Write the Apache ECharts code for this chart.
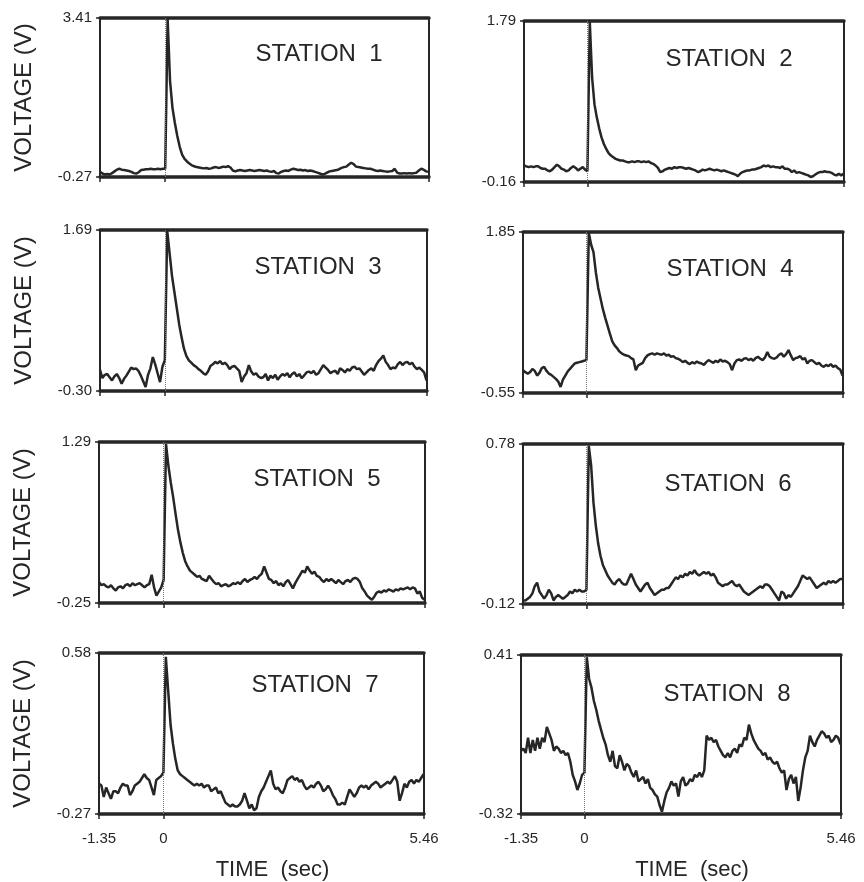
<!DOCTYPE html>
<html><head><meta charset="utf-8">
<script src="https://cdn.jsdelivr.net/npm/echarts@6/dist/echarts.min.js"></script>
<style>html,body{margin:0;padding:0;background:#fff}#c{width:864px;height:882px}</style>
</head><body><div id="c"></div>
<script>
// sampling of the recorded traces
const T0 = -1.35, DT = 0.05;
const TIME_MIN = -1.35, TIME_MAX = 5.46;
const TIME_TICKS = [-1.35, 0, 5.46];
const TIME_TICK_LABELS = ['-1.35', '0', '5.46'];
const STATION_NAMES = ['STATION  1','STATION  2','STATION  3','STATION  4','STATION  5','STATION  6','STATION  7','STATION  8'];
const Y_MIN = [-0.27, -0.16, -0.30, -0.55, -0.25, -0.12, -0.27, -0.32];
const Y_MAX = [3.41, 1.79, 1.69, 1.85, 1.29, 0.78, 0.58, 0.41];
const Y_MIN_LABELS = ['-0.27','-0.16','-0.30','-0.55','-0.25','-0.12','-0.27','-0.32'];
const Y_MAX_LABELS = ['3.41','1.79','1.69','1.85','1.29','0.78','0.58','0.41'];

const station1 = [
-0.15,-0.19,-0.21,-0.20,-0.21,-0.18,-0.14,-0.10,-0.08,-0.10,
-0.11,-0.12,-0.13,-0.15,-0.18,-0.19,-0.16,-0.11,-0.10,-0.09,
-0.09,-0.08,-0.09,-0.09,-0.08,-0.09,-0.08,-0.08,
3.39,1.95,1.33,0.98,0.68,0.43,0.25,0.15,0.09,0.04,
0.00,-0.02,-0.04,-0.05,-0.06,-0.07,-0.06,-0.08,-0.07,-0.05,
-0.04,-0.06,-0.05,-0.03,-0.04,-0.02,-0.05,-0.12,-0.14,-0.12,
-0.11,-0.12,-0.13,-0.12,-0.11,-0.12,-0.13,-0.12,-0.11,-0.12,
-0.13,-0.12,-0.14,-0.15,-0.13,-0.18,-0.19,-0.15,-0.13,-0.12,
-0.13,-0.10,-0.08,-0.09,-0.11,-0.10,-0.12,-0.11,-0.13,-0.12,
-0.13,-0.15,-0.17,-0.19,-0.21,-0.20,-0.17,-0.14,-0.13,-0.12,
-0.11,-0.09,-0.06,-0.04,-0.03,0.02,0.06,0.03,-0.03,-0.04,
-0.05,-0.06,-0.07,-0.08,-0.08,-0.10,-0.12,-0.13,-0.12,-0.13,
-0.14,-0.15,-0.14,-0.13,-0.08,-0.17,-0.19,-0.19,-0.18,-0.19,
-0.18,-0.19,-0.18,-0.17,-0.12,-0.08,-0.10,-0.14,-0.15];

const station2 = [
0.04,0.03,0.02,0.03,0.02,0.03,0.03,0.01,0.00,0.00,
-0.02,-0.03,-0.01,0.02,0.05,0.03,0.00,-0.01,-0.03,-0.02,
0.01,0.03,0.01,-0.02,0.00,0.02,-0.01,-0.03,
1.78,1.10,0.78,0.62,0.49,0.38,0.30,0.24,0.19,0.16,
0.14,0.12,0.11,0.10,0.10,0.09,0.08,0.08,0.09,0.08,
0.09,0.09,0.08,0.09,0.08,0.09,0.07,0.06,0.04,0.01,
-0.04,-0.03,-0.01,0.00,0.01,0.00,0.02,0.01,0.02,0.02,
0.01,0.00,0.01,0.00,-0.01,-0.02,-0.04,-0.03,-0.01,-0.02,
-0.01,0.00,-0.01,-0.02,-0.01,-0.02,-0.03,-0.02,-0.03,-0.04,
-0.05,-0.06,-0.07,-0.09,-0.06,-0.04,-0.03,-0.02,-0.02,-0.01,
-0.01,0.00,0.01,0.02,0.04,0.03,0.04,0.02,0.03,0.02,
0.02,0.01,0.03,0.00,0.00,-0.01,-0.04,-0.02,-0.05,-0.04,
-0.05,-0.06,-0.07,-0.08,-0.10,-0.09,-0.07,-0.05,-0.04,-0.04,
-0.03,-0.04,-0.04,-0.05,-0.07,-0.08,-0.06,-0.08,-0.06];

const station3 = [
-0.04,-0.14,-0.10,-0.09,-0.13,-0.17,-0.12,-0.09,-0.14,-0.21,
-0.15,-0.11,-0.06,-0.01,-0.03,-0.02,-0.05,-0.11,-0.18,-0.25,
-0.10,-0.02,0.12,0.03,-0.08,-0.19,0.00,0.08,
1.68,1.40,1.12,0.92,0.72,0.52,0.36,0.22,0.13,0.08,
0.05,0.02,0.00,-0.03,-0.05,-0.08,-0.10,-0.06,0.01,0.03,
0.06,0.04,0.07,0.03,0.05,0.02,-0.03,0.00,0.01,-0.02,
-0.05,-0.19,-0.12,-0.08,0.02,-0.06,-0.10,-0.08,-0.12,-0.14,
-0.13,-0.09,-0.17,-0.11,-0.14,-0.10,-0.16,-0.12,-0.09,-0.11,
-0.08,-0.13,-0.09,-0.07,-0.12,-0.09,-0.14,-0.11,-0.07,-0.06,
-0.08,-0.05,-0.10,-0.08,-0.03,0.02,-0.01,-0.04,-0.08,-0.06,
-0.05,-0.09,-0.02,-0.04,-0.07,-0.03,-0.05,-0.01,0.00,-0.03,
-0.02,-0.06,-0.10,-0.07,-0.04,-0.02,-0.05,0.02,0.07,0.10,
0.14,0.06,0.02,-0.03,-0.01,-0.02,0.03,0.06,0.02,0.05,
0.06,0.03,0.05,0.00,-0.03,-0.01,-0.04,-0.07,-0.17];

const station4 = [
-0.21,-0.24,-0.26,-0.24,-0.19,-0.22,-0.29,-0.25,-0.18,-0.16,
-0.22,-0.26,-0.28,-0.31,-0.34,-0.38,-0.46,-0.35,-0.29,-0.23,
-0.19,-0.15,-0.11,-0.10,-0.09,-0.08,-0.07,-0.06,
1.84,1.66,1.55,1.25,1.02,0.86,0.70,0.57,0.45,0.33,
0.22,0.16,0.12,0.07,0.04,0.02,0.01,0.00,-0.03,-0.05,
-0.21,-0.14,-0.12,-0.10,-0.03,0.01,0.03,0.04,0.02,0.04,
0.03,0.02,0.04,0.01,0.02,-0.01,0.00,-0.03,-0.04,-0.06,
-0.09,-0.07,-0.10,-0.12,-0.09,-0.11,-0.08,-0.10,-0.11,-0.13,
-0.09,-0.06,-0.08,-0.10,-0.07,-0.09,-0.05,-0.08,-0.07,-0.09,
-0.12,-0.21,-0.11,-0.06,-0.05,-0.07,-0.04,-0.03,-0.06,-0.04,
-0.07,-0.03,-0.01,-0.04,-0.06,-0.02,0.06,-0.01,-0.03,-0.04,
-0.02,0.02,0.04,-0.01,0.03,0.09,0.01,-0.06,-0.03,-0.02,
0.00,-0.05,-0.03,-0.11,-0.07,-0.06,-0.09,-0.12,-0.10,-0.14,
-0.16,-0.13,-0.15,-0.12,-0.16,-0.14,-0.18,-0.20,-0.29];

const station5 = [
-0.05,-0.08,-0.07,-0.09,-0.10,-0.08,-0.11,-0.13,-0.10,-0.09,
-0.11,-0.08,-0.07,-0.09,-0.06,-0.08,-0.07,-0.06,-0.08,-0.10,
-0.08,-0.07,0.02,-0.10,-0.18,-0.14,-0.10,-0.03,
1.27,1.06,0.90,0.76,0.60,0.45,0.33,0.23,0.15,0.10,
0.06,0.04,0.02,0.00,0.01,-0.02,-0.03,-0.04,0.01,-0.02,
-0.05,-0.07,-0.06,-0.09,-0.08,-0.07,-0.09,-0.08,-0.06,-0.07,
-0.05,-0.07,-0.04,-0.02,-0.05,-0.03,-0.02,0.00,-0.02,0.01,
0.03,0.10,0.04,-0.02,-0.03,-0.06,-0.04,-0.08,-0.06,-0.09,
-0.05,-0.03,-0.07,-0.11,-0.06,-0.02,0.02,0.06,0.04,0.10,
0.06,0.03,0.05,0.01,0.00,-0.03,-0.05,-0.02,-0.04,-0.02,
-0.04,-0.06,-0.03,-0.05,-0.07,-0.04,-0.03,-0.05,-0.02,-0.01,
-0.02,-0.05,-0.11,-0.14,-0.18,-0.20,-0.22,-0.19,-0.15,-0.14,
-0.15,-0.13,-0.14,-0.12,-0.13,-0.14,-0.12,-0.13,-0.11,-0.12,
-0.11,-0.10,-0.12,-0.10,-0.11,-0.16,-0.14,-0.20,-0.22];

const station6 = [
-0.10,-0.10,-0.09,-0.08,-0.06,-0.02,0.00,-0.05,-0.07,-0.09,
-0.07,-0.04,-0.06,-0.10,-0.08,-0.07,-0.08,-0.09,-0.08,-0.07,
-0.05,-0.06,-0.04,-0.05,-0.04,-0.05,-0.05,-0.04,
0.77,0.66,0.45,0.32,0.22,0.15,0.10,0.07,0.04,0.02,
0.00,-0.01,0.01,0.02,0.00,-0.01,-0.01,0.02,0.05,0.02,
-0.01,-0.03,-0.05,-0.03,-0.01,0.00,-0.03,-0.05,-0.07,-0.06,
-0.05,-0.04,-0.04,-0.03,-0.03,-0.01,0.01,0.03,0.02,0.04,
0.03,0.05,0.04,0.06,0.05,0.07,0.05,0.04,0.05,0.06,
0.05,0.06,0.04,0.05,0.03,0.00,-0.01,-0.02,-0.01,-0.01,
0.00,0.01,-0.01,-0.02,-0.01,-0.03,-0.05,-0.06,-0.07,-0.06,
-0.05,-0.04,-0.03,-0.02,-0.03,-0.01,-0.01,-0.02,-0.04,-0.06,
-0.08,-0.10,-0.05,-0.06,-0.09,-0.07,-0.08,-0.06,-0.04,-0.02,
0.01,0.04,0.03,0.02,0.03,0.01,-0.01,-0.03,-0.02,-0.01,
0.00,-0.01,0.01,0.00,0.01,0.00,0.01,0.02,0.02];

const station7 = [
-0.11,-0.12,-0.18,-0.13,-0.16,-0.19,-0.15,-0.15,-0.16,-0.13,
-0.11,-0.12,-0.12,-0.17,-0.15,-0.12,-0.11,-0.10,-0.08,-0.06,
-0.08,-0.09,-0.13,-0.17,-0.09,-0.08,-0.07,-0.05,
0.56,0.38,0.20,0.10,0.02,-0.04,-0.06,-0.07,-0.08,-0.09,
-0.10,-0.11,-0.12,-0.11,-0.12,-0.11,-0.13,-0.12,-0.12,-0.15,
-0.14,-0.13,-0.16,-0.15,-0.18,-0.21,-0.22,-0.23,-0.22,-0.23,
-0.23,-0.22,-0.20,-0.16,-0.20,-0.24,-0.22,-0.25,-0.24,-0.18,
-0.15,-0.13,-0.10,-0.07,-0.04,-0.11,-0.14,-0.13,-0.15,-0.16,
-0.13,-0.09,-0.08,-0.07,-0.09,-0.08,-0.10,-0.09,-0.12,-0.14,
-0.13,-0.12,-0.13,-0.11,-0.10,-0.12,-0.15,-0.14,-0.12,-0.14,
-0.17,-0.19,-0.22,-0.22,-0.21,-0.22,-0.18,-0.14,-0.16,-0.18,
-0.16,-0.13,-0.12,-0.13,-0.12,-0.14,-0.12,-0.11,-0.10,-0.11,
-0.13,-0.12,-0.11,-0.10,-0.11,-0.09,-0.07,-0.10,-0.20,-0.16,
-0.11,-0.13,-0.10,-0.09,-0.11,-0.09,-0.10,-0.08,-0.06];

const station8 = [
-0.03,-0.02,-0.04,0.03,-0.04,0.02,-0.03,0.03,-0.02,0.03,
0.01,0.08,0.05,0.02,-0.03,-0.01,-0.02,-0.04,-0.03,-0.05,
-0.04,-0.08,-0.14,-0.17,-0.21,-0.18,-0.14,-0.13,
0.40,0.30,0.26,0.20,0.16,0.11,0.07,0.03,0.00,-0.05,
-0.08,-0.03,-0.10,-0.11,-0.05,-0.08,-0.12,-0.09,-0.10,-0.13,
-0.15,-0.12,-0.17,-0.16,-0.15,-0.18,-0.16,-0.20,-0.21,-0.23,
-0.24,-0.28,-0.31,-0.26,-0.22,-0.20,-0.17,-0.19,-0.18,-0.24,
-0.17,-0.15,-0.19,-0.18,-0.16,-0.17,-0.14,-0.15,-0.13,-0.15,
-0.12,0.04,0.02,0.03,0.01,0.02,-0.01,-0.03,-0.05,-0.06,
-0.04,-0.06,-0.03,-0.02,-0.04,0.00,-0.01,0.03,0.02,0.09,
0.05,0.02,0.00,-0.02,-0.03,-0.05,-0.04,-0.07,-0.06,-0.08,
-0.09,-0.08,-0.11,-0.13,-0.12,-0.21,-0.16,-0.14,-0.18,-0.15,
-0.26,-0.20,-0.12,-0.06,-0.03,0.04,0.01,-0.01,0.02,0.04,
0.06,0.05,0.03,0.04,0.01,0.02,0.04,0.03,0.00];

const STATIONS = [station1, station2, station3, station4, station5, station6, station7, station8];

// ---------- layout ----------
const FONT = 'Liberation Sans';
const INK = '#262626';
const GRIDS = [
  {left:100, top:18,  width:329, height:159},
  {left:524, top:21,  width:320, height:161},
  {left:100, top:230, width:327, height:161},
  {left:523, top:232, width:320, height:161},
  {left:99,  top:442, width:326, height:161},
  {left:523, top:444, width:320, height:160},
  {left:99,  top:653, width:325, height:161},
  {left:521, top:655, width:320, height:162}
];
const TITLE_POS = [[314,37],[724,42],[313,250],[725,252],[312,462],[723,467],[310,668],[722,677]];

const grid = [], xAxis = [], yAxis = [], series = [], title = [];
STATIONS.forEach((vals, k) => {
  const g = GRIDS[k];
  grid.push({left:g.left, top:g.top, width:g.width, height:g.height, show:true,
    borderColor:INK, borderWidth:2, backgroundColor:'transparent'});
  const bottomRow = k >= 6;
  const leftCol = k % 2 === 0;
  xAxis.push({type:'value', gridIndex:k, min:TIME_MIN, max:TIME_MAX, position:'bottom',
    splitLine:{show:false},
    axisLine:{show:true, onZero:false, lineStyle:{color:INK, width:3.5}},
    axisTick:{show:true, customValues:TIME_TICKS, length:5, lineStyle:{color:INK, width:1.5}},
    axisLabel:{show:bottomRow, customValues:TIME_TICKS, margin:17, fontSize:15, fontFamily:FONT, color:INK,
      formatter:(v)=>{const i=TIME_TICKS.findIndex(t=>Math.abs(t-v)<1e-6);return i>=0?TIME_TICK_LABELS[i]:'';}},
    name: bottomRow ? 'TIME  (sec)' : '', nameLocation:'middle', nameGap:45,
    nameTextStyle:{fontSize:22, fontFamily:FONT, color:INK, padding:[0,0,0,22]}
  });
  xAxis.push({type:'value', gridIndex:k, min:TIME_MIN, max:TIME_MAX, position:'top',
    splitLine:{show:false}, axisTick:{show:false}, axisLabel:{show:false},
    axisLine:{show:true, onZero:false, lineStyle:{color:INK, width:3.5}}});
  const yv = [Y_MIN[k], Y_MAX[k]];
  yAxis.push({type:'value', gridIndex:k, min:Y_MIN[k], max:Y_MAX[k],
    splitLine:{show:false},
    axisLine:{show:true, onZero:false, lineStyle:{color:INK, width:2}},
    axisTick:{show:true, customValues:yv, length:4, lineStyle:{color:INK, width:1.5}},
    axisLabel:{customValues:yv, margin:8, fontSize:15, fontFamily:FONT, color:INK,
      formatter:(v)=> Math.abs(v-Y_MIN[k])<1e-6 ? Y_MIN_LABELS[k] : Y_MAX_LABELS[k]},
    name: leftCol ? 'VOLTAGE (V)' : '', nameLocation:'middle', nameRotate:90, nameGap:64,
    nameTextStyle:{fontSize:24, fontFamily:FONT, color:INK}
  });
  series.push({type:'line', xAxisIndex:2*k, yAxisIndex:k, showSymbol:false, animation:false,
    lineStyle:{color:INK, width:2.5}, z:3,
    data: vals.map((v,i)=>[Math.round((T0 + i*DT)*100)/100, v]),
    markLine:{silent:true, symbol:'none', label:{show:false},
      lineStyle:{color:'#777', type:'dotted', width:1}, data:[{xAxis:0}]}
  });
  title.push({text:STATION_NAMES[k], left:TITLE_POS[k][0], top:TITLE_POS[k][1], textAlign:'center',
    textStyle:{fontSize:24, fontWeight:'normal', fontFamily:FONT, color:INK}});
});

const chart = echarts.init(document.getElementById('c'), null, {renderer:'canvas'});
chart.setOption({backgroundColor:'#ffffff', animation:false, title, grid, xAxis, yAxis, series});
</script></body></html>
